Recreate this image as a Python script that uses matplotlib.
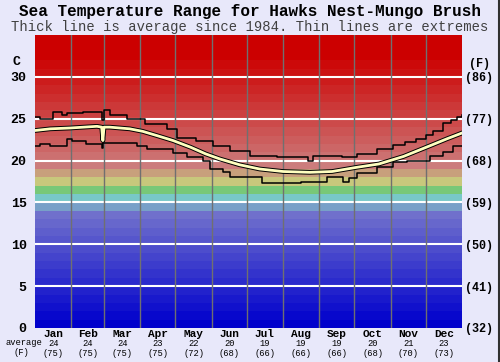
import matplotlib
matplotlib.use("Agg")
import matplotlib.pyplot as plt
import matplotlib.patheffects as pe
from matplotlib.lines import Line2D

# ---- data (day of year, deg C) ----
avg_days = [0, 13, 30, 53, 57, 58, 59, 64, 81, 92, 104, 118, 133, 146, 158, 175,
            192, 212, 235, 254, 275, 294, 315, 338, 352, 365]
avg_vals = [23.6, 23.8, 23.9, 24.1, 24.0, 22.4, 24.0, 24.0, 23.8, 23.5, 23.0, 22.4,
            21.6, 20.8, 20.2, 19.5, 19.0, 18.7, 18.6, 18.7, 19.2, 19.6, 20.5, 21.8,
            22.6, 23.3]

max_days = [0, 4, 15, 23, 27, 41, 57, 59, 64, 79, 94, 113, 121, 138, 152, 167, 184,
            207, 233, 238, 262, 275, 292, 306, 316, 326, 334, 340, 349, 356, 361, 365]
max_vals = [25.2, 25.0, 25.8, 25.4, 25.7, 25.8, 24.9, 26.1, 25.4, 25.0, 24.4, 23.8,
            22.7, 22.4, 21.8, 21.2, 20.6, 20.4, 19.9, 20.5, 20.4, 20.8, 21.4, 21.9,
            22.2, 22.6, 23.1, 23.6, 24.5, 24.8, 25.2, 25.4]

min_days = [0, 4, 13, 27, 32, 44, 57, 58, 87, 96, 118, 130, 144, 150, 161, 167, 194,
            227, 250, 263, 268, 275, 292, 306, 318, 338, 349, 357, 365]
min_vals = [21.8, 22.0, 21.8, 22.6, 22.4, 22.0, 21.5, 22.1, 21.8, 21.4, 20.9, 20.4,
            19.9, 19.0, 18.6, 18.0, 17.3, 17.4, 18.0, 17.4, 17.9, 18.5, 19.2, 19.8,
            19.9, 20.6, 21.0, 21.7, 21.8]

months = ["Jan", "Feb", "Mar", "Apr", "May", "Jun",
          "Jul", "Aug", "Sep", "Oct", "Nov", "Dec"]
month_len = [31, 28, 31, 30, 31, 30, 31, 31, 30, 31, 30, 31]
month_c = [24, 24, 24, 23, 22, 20, 19, 19, 19, 20, 21, 23]
month_f = [75, 75, 75, 75, 72, 68, 66, 66, 66, 68, 70, 73]

c_ticks = [0, 5, 10, 15, 20, 25, 30]
f_labels = ["(32)", "(41)", "(50)", "(59)", "(68)", "(77)", "(86)"]

MONO = "Liberation Mono"
BG = "#e8e8fa"


def band_colour(t):
    # 1 degree colour bands, blue -> cyan/green -> red
    if t <= 13:
        v = int(0x70 * t / 13)
        return "#%02x%02x%02x" % (v, v, 0xcc)
    special = {14: "#78a0c8", 15: "#78c8c8", 16: "#78c878", 17: "#c8c87c",
               18: "#c8a07c", 19: "#cc7c7c"}
    if t in special:
        return special[t]
    v = max(0, int(0x70 * (1 - (t - 20) / 12)))
    return "#%02x%02x%02x" % (0xcc, v, v)


fig = plt.figure(figsize=(5, 3.62), dpi=100, facecolor=BG)
ax = fig.add_axes([0.07, 0.094, 0.854, 0.809])
ax.set_xlim(0, 365)
ax.set_ylim(0, 35)

for t in range(35):
    ax.axhspan(t, t + 1, color=band_colour(t), lw=0, zorder=0)

for c in c_ticks[1:]:
    ax.axhline(c, color="white", lw=1.5, zorder=1)

edges = [0]
for n in month_len:
    edges.append(edges[-1] + n)
for e in edges[1:-1]:
    ax.axvline(e, color="#707070", lw=1, zorder=1)

ax.step(max_days, max_vals, where="post", color="black", lw=1.1, zorder=3)
ax.step(min_days, min_vals, where="post", color="black", lw=1.1, zorder=3)
ax.plot(avg_days, avg_vals, color="#ffffc0", lw=2.0, zorder=4,
        path_effects=[pe.Stroke(linewidth=3.4, foreground="black"), pe.Normal()])

for s in ax.spines.values():
    s.set_visible(False)
ax.set_xticks([])
ax.set_yticks(c_ticks)
ax.set_yticklabels([str(c) for c in c_ticks], fontfamily=MONO,
                   fontweight="bold", fontsize=9.5)
ax.tick_params(axis="y", length=0, pad=6)

ax2 = ax.twinx()
ax2.set_ylim(0, 35)
ax2.set_yticks(c_ticks)
ax2.set_yticklabels(f_labels, fontfamily=MONO, fontweight="bold", fontsize=8.5)
ax2.tick_params(axis="y", length=0, pad=2)
for s in ax2.spines.values():
    s.set_visible(False)

ax.text(-0.035, 31.8, "C", transform=ax.get_yaxis_transform(), ha="right",
        va="center", fontfamily=MONO, fontweight="bold", fontsize=9.5)
ax.text(1.042, 31.6, "(F)", transform=ax.get_yaxis_transform(), ha="center",
        va="center", fontfamily=MONO, fontweight="bold", fontsize=8.5)

# month labels under the plot
bt = ax.get_xaxis_transform()
for i, m in enumerate(months):
    mid = (edges[i] + edges[i + 1]) / 2
    ax.text(mid, -0.022, m, transform=bt, ha="center", va="center",
            fontfamily=MONO, fontweight="bold", fontsize=8)
    ax.text(mid, -0.053, str(month_c[i]), transform=bt, ha="center",
            va="center", fontfamily=MONO, fontsize=6.3)
    ax.text(mid, -0.087, "(%d)" % month_f[i], transform=bt, ha="center",
            va="center", fontfamily=MONO, fontsize=6.3)
fig.text(0.048, 0.0525, "average", ha="center", va="center",
         fontfamily=MONO, fontsize=6.3)
fig.text(0.042, 0.025, "(F)", ha="center", va="center",
         fontfamily=MONO, fontsize=6.3)

fig.text(0.5, 0.967, "Sea Temperature Range for Hawks Nest-Mungo Brush",
         ha="center", va="center", fontfamily=MONO, fontweight="bold",
         fontsize=11.5)
fig.text(0.5, 0.925, "Thick line is average since 1984. Thin lines are extremes",
         ha="center", va="center", fontfamily=MONO, fontsize=10, color="#404040")

fig.add_artist(Line2D([0.997, 0.997], [0, 1], color="#303030", lw=1.5,
                      transform=fig.transFigure))

fig.savefig("out.png", dpi=100, facecolor=BG)
